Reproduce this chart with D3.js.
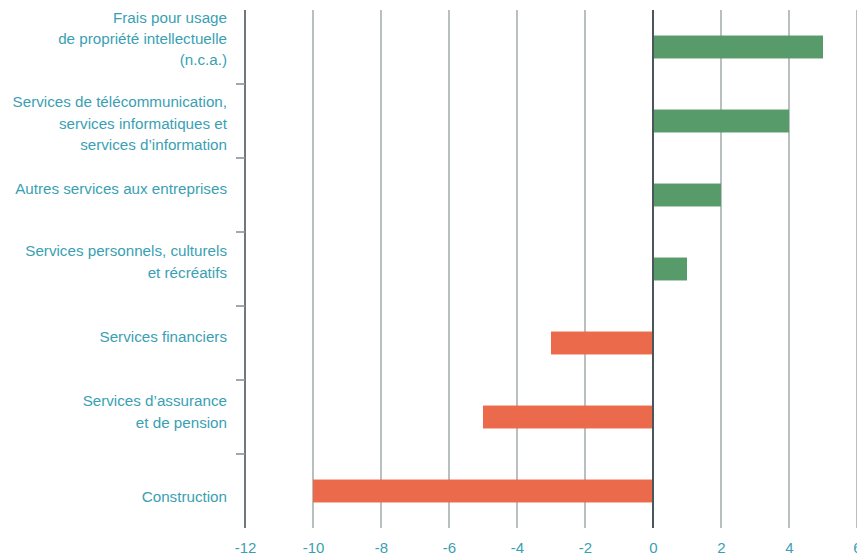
<!DOCTYPE html>
<html>
<head>
<meta charset="utf-8">
<script src="https://cdn.jsdelivr.net/npm/d3@7"></script>
<style>
  html, body { margin: 0; padding: 0; background: #ffffff; }
  svg { display: block; }
  text { font-family: "Liberation Sans", Arial, sans-serif; }
</style>
</head>
<body>
<svg id="chart" width="857" height="555"></svg>
<script>
// Service categories (multi-line labels split on "|")
const categories = [
  "Frais pour usage|de propriété intellectuelle|(n.c.a.)",
  "Services de télécommunication,|services informatiques et|services d’information",
  "Autres services aux entreprises",
  "Services personnels, culturels|et récréatifs",
  "Services financiers",
  "Services d’assurance|et de pension",
  "Construction"
];
const values = [5, 4, 2, 1, -3, -5, -10];
const xTicks = [-12, -10, -8, -6, -4, -2, 0, 2, 4, 6];
const titleText = "Variation en points de pourcentage";

const svg = d3.select("#chart");
const plot = { left: 245, right: 857, top: 10, bottom: 528 };

const x = d3.scaleLinear().domain([-12, 6]).range([plot.left, plot.right]);
const y = d3.scaleBand().domain(categories).range([plot.top, plot.bottom]).paddingInner(0).paddingOuter(0);
const barH = y.bandwidth() * 0.31;

const labelColor = "#3a9fb3";
const gridColor = "#8b9498";
const axisColor = "#4b565c";

// Per-band vertical nudge of the category label blocks
const labelNudge = [-8.5, 2, -7, -7.5, -7, -5.5, 5];

// Partially visible heading above the plot
svg.append("text")
  .attr("x", 293).attr("y", -3)
  .attr("text-anchor", "end")
  .attr("font-size", 15).attr("font-weight", "bold")
  .attr("fill", "#2b8fd4")
  .text(titleText);

// Vertical grid lines at each tick
svg.append("g")
  .selectAll("line")
  .data(xTicks.filter(d => d !== 0 && d !== -12))
  .join("line")
  .attr("x1", d => x(d)).attr("x2", d => x(d))
  .attr("y1", plot.top).attr("y2", plot.bottom)
  .attr("stroke", gridColor).attr("stroke-width", 1.2);

// Bars
svg.append("g")
  .selectAll("rect")
  .data(categories.map((c, i) => ({ c, v: values[i] })))
  .join("rect")
  .attr("x", d => x(Math.min(0, d.v)))
  .attr("width", d => Math.abs(x(d.v) - x(0)))
  .attr("y", d => y(d.c) + (y.bandwidth() - barH) / 2)
  .attr("height", barH)
  .attr("fill", d => d.v >= 0 ? "#579b6a" : "#ec6a4c");

// Zero line
svg.append("line")
  .attr("x1", x(0)).attr("x2", x(0))
  .attr("y1", plot.top).attr("y2", plot.bottom)
  .attr("stroke", axisColor).attr("stroke-width", 2);

// Left category axis: vertical line with tick marks at band boundaries
svg.append("line")
  .attr("x1", plot.left).attr("x2", plot.left)
  .attr("y1", plot.top).attr("y2", plot.bottom)
  .attr("stroke", axisColor).attr("stroke-width", 1.6);

svg.append("g")
  .selectAll("line")
  .data(categories.slice(1))
  .join("line")
  .attr("x1", plot.left - 9).attr("x2", plot.left)
  .attr("y1", d => y(d)).attr("y2", d => y(d))
  .attr("stroke", gridColor).attr("stroke-width", 1.6);

// Category labels, right-aligned within their band
const lineH = 21.2;
const labels = svg.append("g")
  .selectAll("text")
  .data(categories)
  .join("text")
  .attr("text-anchor", "end")
  .attr("font-size", 15.2)
  .attr("fill", labelColor);

labels.each(function (d, k) {
  const lines = d.split("|");
  const cy = y(d) + y.bandwidth() / 2 + labelNudge[k];
  const y0 = cy - (lines.length - 1) * lineH / 2 + 5.5;
  d3.select(this).selectAll("tspan")
    .data(lines)
    .join("tspan")
    .attr("x", 227)
    .attr("y", (l, i) => y0 + i * lineH)
    .text(l => l);
});

// Bottom value axis labels
const xAxis = d3.axisBottom(x).tickValues(xTicks).tickSize(0).tickPadding(0)
  .tickFormat(d => String(d));
const gx = svg.append("g")
  .attr("transform", `translate(0, 542)`)
  .call(xAxis);
gx.select(".domain").remove();
gx.selectAll("text")
  .attr("font-family", "\"Liberation Sans\", Arial, sans-serif")
  .attr("font-size", 15)
  .attr("fill", labelColor)
  .attr("dy", "0.71em");
</script>
</body>
</html>
